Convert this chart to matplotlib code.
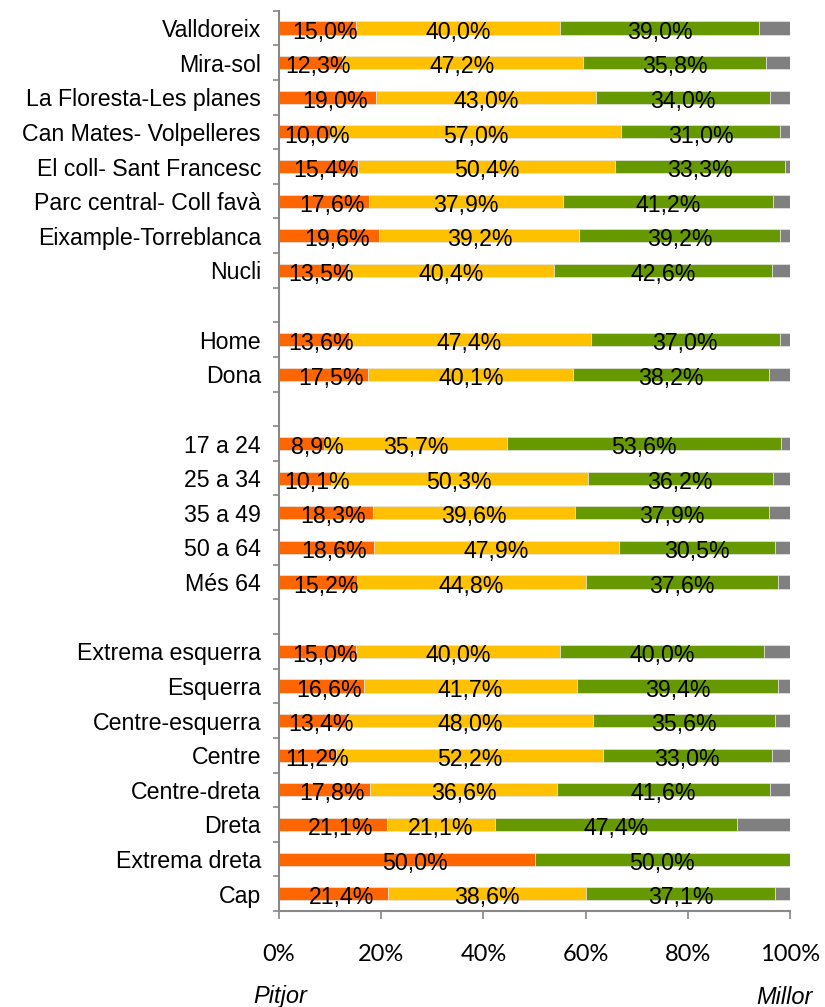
import matplotlib
matplotlib.use('Agg')
import matplotlib.pyplot as plt
import numpy as np

# categories, top to bottom ('' = blank separator row)
categories = ['Valldoreix', 'Mira-sol', 'La Floresta-Les planes', 'Can Mates- Volpelleres',
              'El coll- Sant Francesc', 'Parc central- Coll favà', 'Eixample-Torreblanca', 'Nucli',
              '',
              'Home', 'Dona',
              '',
              '17 a 24', '25 a 34', '35 a 49', '50 a 64', 'Més 64',
              '',
              'Extrema esquerra', 'Esquerra', 'Centre-esquerra', 'Centre', 'Centre-dreta',
              'Dreta', 'Extrema dreta', 'Cap']

# values in %, None for blank rows
pitjor = [15.0, 12.3, 19.0, 10.0, 15.4, 17.6, 19.6, 13.5, None, 13.6, 17.5, None,
          8.9, 10.1, 18.3, 18.6, 15.2, None, 15.0, 16.6, 13.4, 11.2, 17.8, 21.1, 50.0, 21.4]
regular = [40.0, 47.2, 43.0, 57.0, 50.4, 37.9, 39.2, 40.4, None, 47.4, 40.1, None,
           35.7, 50.3, 39.6, 47.9, 44.8, None, 40.0, 41.7, 48.0, 52.2, 36.6, 21.1, 0.0, 38.6]
millor = [39.0, 35.8, 34.0, 31.0, 33.3, 41.2, 39.2, 42.6, None, 37.0, 38.2, None,
          53.6, 36.2, 37.9, 30.5, 37.6, None, 40.0, 39.4, 35.6, 33.0, 41.6, 47.4, 50.0, 37.1]
nsnc = [6.0, 4.7, 4.0, 2.0, 0.9, 3.3, 2.0, 3.5, None, 2.0, 4.2, None,
        1.8, 3.4, 4.2, 3.0, 2.4, None, 5.0, 2.3, 3.0, 3.6, 4.0, 10.4, 0.0, 2.9]

colors = ['#FF6600', '#FFC000', '#669900', '#808080']
series = [pitjor, regular, millor, nsnc]

FS = 16.7

fig = plt.figure(figsize=(8.25, 10.07), dpi=100)
ax = fig.add_axes([0.3382, 0.0953, 0.6194, 0.8941])

y = np.arange(len(categories))
left = np.zeros(len(categories))
for k, (vals, col) in enumerate(zip(series, colors)):
    v = np.array([0 if x is None else x for x in vals], dtype=float)
    ax.barh(y, v, left=left, height=0.38, color=col, edgecolor='#e6e6e6', linewidth=0.5)
    if k < 3:
        for i, val in enumerate(vals):
            if val is None or val == 0:
                continue
            xc = left[i] + val / 2
            if k == 0:
                # labels in the first segment sit a bit to the right
                xc = max(xc + 1.5, 7.5)
            ax.text(xc, y[i] + 0.12, ('%.1f%%' % val).replace('.', ','),
                    ha='center', va='center', fontsize=FS, family='Liberation Sans')
    left += v

ax.set_xlim(0, 100)
ax.set_ylim(len(categories) - 0.5, -0.5)

ax.set_yticks(y)
ax.set_yticklabels(categories, fontsize=FS, family='Liberation Sans')
ax.set_yticks(np.arange(len(categories) + 1) - 0.5, minor=True)
ax.tick_params(axis='y', which='major', length=0, pad=13)
ax.tick_params(axis='y', which='minor', length=4.5, width=1.2, color='#888888')

ax.set_xticks([0, 20, 40, 60, 80, 100])
ax.set_xticklabels(['0%', '20%', '40%', '60%', '80%', '100%'], fontsize=17, family='Lato')
ax.tick_params(axis='x', length=5.5, width=1.2, color='#888888', pad=18)

for s in ['top', 'right']:
    ax.spines[s].set_visible(False)
for s in ['left', 'bottom']:
    ax.spines[s].set_color('#888888')
    ax.spines[s].set_linewidth(1.5)

fig.text(280 / 825, 1 - 997 / 1007, 'Pitjor', ha='center', va='center',
         fontsize=17, style='italic', family='Liberation Sans')
fig.text(784 / 825, 1 - 997 / 1007, 'Millor', ha='center', va='center',
         fontsize=17, style='italic', family='Liberation Sans')

fig.savefig('out.png', dpi=100)
